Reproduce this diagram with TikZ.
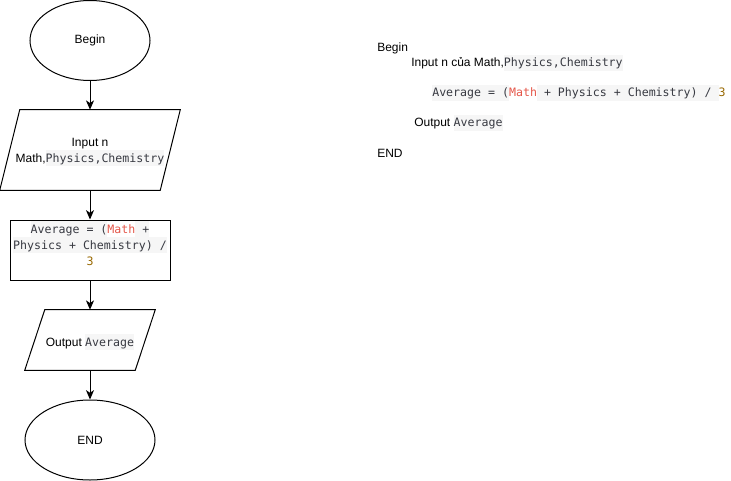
\documentclass[tikz,border=0pt]{standalone}
\usepackage{fontspec}
\setmainfont{Liberation Sans}
\newfontfamily\codefont{DejaVu Sans Mono}
\usetikzlibrary{shapes.geometric,arrows.meta,calc}

\definecolor{codetext}{HTML}{383A42}
\definecolor{codered}{HTML}{E45649}
\definecolor{codenum}{HTML}{986801}
\definecolor{codebg}{HTML}{F6F6F6}

% inline code pieces
\newcommand{\codestrut}{\rule[-3pt]{0pt}{12pt}}
\newcommand{\code}[1]{{\fontsize{8.7}{12}\selectfont\setlength{\fboxsep}{0pt}\colorbox{codebg}{\codestrut\codefont\color{codetext}#1}}}
\newcommand{\codevar}[1]{{\fontsize{8.7}{12}\selectfont\codefont\color{codered}#1}}
\newcommand{\codeint}[1]{{\fontsize{8.7}{12}\selectfont\codefont\color{codenum}#1}}

\begin{document}
\begin{tikzpicture}[
    x=0.75pt, y=-0.75pt,
    every node/.style={font=\fontsize{9}{12}\selectfont},
    terminal/.style={draw, ellipse, line width=0.75pt, minimum height=60pt, inner sep=0pt},
    frame/.style={minimum width=#1, inner sep=0pt},
    label text/.style={inner sep=0pt, align=center},
    shapeline/.style={line width=0.75pt, line join=miter},
    flow/.style={line width=0.75pt, -{Stealth[length=7pt, width=6pt, inset=2pt]}},
    pseudo/.style={anchor=west, inner sep=0pt}
]
    \useasboundingbox (0,0) rectangle (731,481);

    % Flowchart
    \node[terminal, minimum width=90pt] (start) at (90,40.5) {Begin};
    \node[frame=120pt, minimum height=60pt] (input) at (90,150) {};
    \draw[shapeline] ($(input.north west)+(10,0)$) -- ($(input.north east)+(10,0)$)
        -- ($(input.south east)+(-10,0)$) -- ($(input.south west)+(-10,0)$) -- cycle;
    \node[label text] (inputtext) at (90,152) {Input n\\Math,\code{Physics,Chemistry}};
    \node[draw, line width=0.75pt, minimum width=120pt, minimum height=45pt] (calc) at (90,250) {};
    \node[label text, font=\fontsize{8.7}{12}\selectfont] (calctext) at (90,243.5)
        {\code{Average = (}\codevar{Math}\code{\ +}\\\code{Physics + Chemistry) /}\\\codeint{3}};
    \node[frame=82.5pt, minimum height=45pt] (output) at (90,340) {};
    \draw[shapeline] ($(output.north west)+(10,0)$) -- ($(output.north east)+(10,0)$)
        -- ($(output.south east)+(-10,0)$) -- ($(output.south west)+(-10,0)$) -- cycle;
    \node[label text] (outputtext) at (90,342) {Output \code{Average}};
    \node[terminal, minimum width=97.5pt] (stop) at (90,440) {END};

    % Arrows
    \draw[flow] (start.south) -- (input.north);
    \draw[flow] (input.south) -- (calc.north);
    \draw[flow] (calc.south) -- (output.north);
    \draw[flow] (output.south) -- (stop.north);

    % Pseudocode
    \node[pseudo] (pBegin) at (377,48) {Begin};
    \node[pseudo] (pInput) at (411,63) {Input n của Math,\code{Physics,Chemistry}};
    \node[pseudo] (pAvg) at (432,93) {\code{Average = (}\codevar{Math}\code{\ + Physics + Chemistry) / }\codeint{3}};
    \node[pseudo] (pOutput) at (414,123) {Output \code{Average}};
    \node[pseudo] (pEnd) at (377,153) {END};
\end{tikzpicture}
\end{document}
